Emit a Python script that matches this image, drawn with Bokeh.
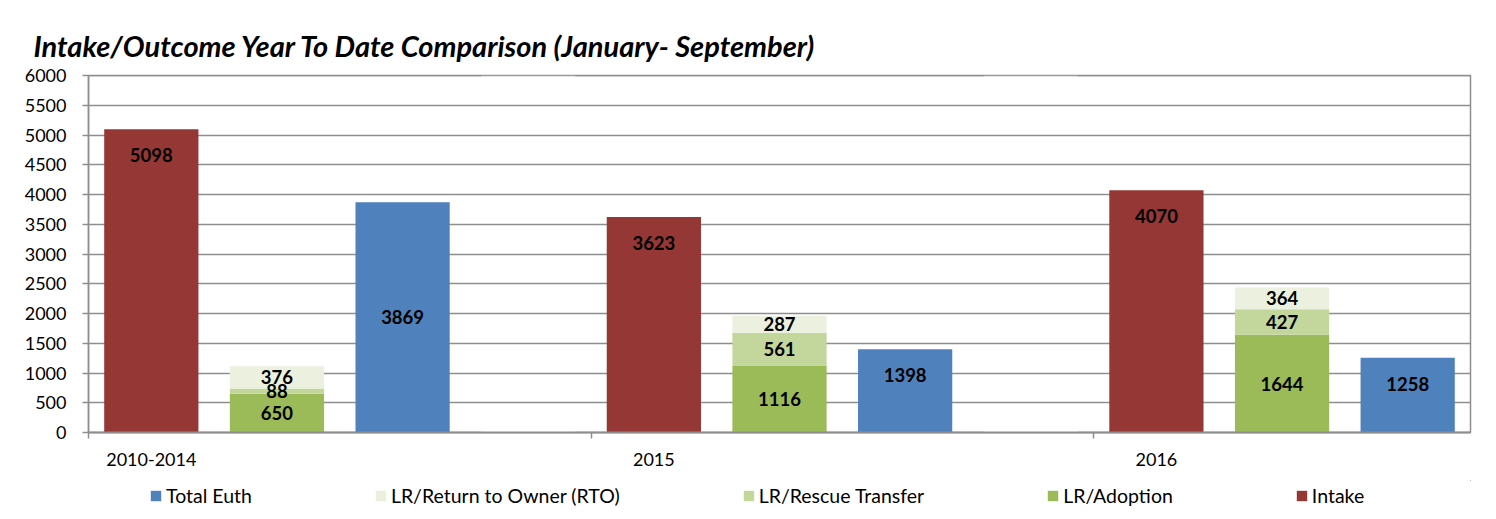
from bokeh.plotting import figure
from bokeh.layouts import column
from bokeh.models import (ColumnDataSource, FixedTicker, Range1d, Legend,
                          LegendItem, Span, Title)
from bokeh.core.properties import value
from bokeh.embed import file_html
from bokeh.resources import INLINE

# ---------------- data ----------------
title_text = "Intake/Outcome Year To Date Comparison (January- September)"
years = ["2010-2014", "2015", "2016"]
intake = [5098, 3623, 4070]
adoption = [650, 1116, 1644]
rescue = [88, 561, 427]
rto = [376, 287, 364]
euth = [3869, 1398, 1258]
y_ticks = [0, 500, 1000, 1500, 2000, 2500, 3000, 3500, 4000, 4500, 5000, 5500, 6000]
legend_names = ["Total Euth", "LR/Return to Owner (RTO)", "LR/Rescue Transfer",
                "LR/Adoption", "Intake"]

# ---------------- style ----------------
FONT = "Lato"
GRID = "#8E8E8E"
C_INTAKE = "#953735"
C_EUTH = "#4F81BD"
C_ADOPT = "#9BBB59"
C_RESCUE = "#C3D69B"
C_RTO = "#EBF1DE"
euth_label_at = ["center", "end", "end"]

slots = 4  # intake, outcomes, euth, spacer
base = [i * slots for i in range(len(years))]
x_intake = [b + 0.5 for b in base]
x_out = [b + 1.5 for b in base]
x_euth = [b + 2.5 for b in base]
x_spacer = [b + 3.5 for b in base[:-1]]
x_end = base[-1] + 3
y_max = y_ticks[-1]
bw = 0.75

p = figure(width=1496, height=480, output_backend="svg", toolbar_location=None,
           x_range=Range1d(0, x_end), y_range=Range1d(0, y_max),
           min_border_left=88, min_border_right=26, min_border_top=75,
           min_border_bottom=48)
p.outline_line_color = GRID
p.outline_line_width = 1.5
p.background_fill_color = "white"
p.border_fill_color = "white"

p.xgrid.visible = False
p.ygrid.ticker = FixedTicker(ticks=y_ticks)
p.ygrid.grid_line_color = GRID
p.ygrid.grid_line_width = 1.5

# white spacer slots hide gridlines between year groups
p.vbar(x=x_spacer, top=y_max, width=bw, fill_color="white", line_color=None,
       level="underlay")
p.add_layout(Span(location=y_max, dimension="width", line_color=GRID, line_width=1.5))

src = ColumnDataSource(dict(x_intake=x_intake, x_out=x_out, x_euth=x_euth,
                            intake=intake, adoption=adoption, rescue=rescue,
                            rto=rto, euth=euth))

p.vbar(x="x_intake", top="intake", width=bw, source=src,
       fill_color=C_INTAKE, line_color=None)
p.vbar(x="x_euth", top="euth", width=bw, source=src,
       fill_color=C_EUTH, line_color=None)
p.vbar_stack(["adoption", "rescue", "rto"], x="x_out", width=bw,
             source=src, color=[C_ADOPT, C_RESCUE, C_RTO], line_color=None)

# ---------------- labels ----------------
lab_kw = dict(text_font=value(FONT), text_font_style="bold",
              text_font_size="18.5px", text_align="center",
              text_baseline="middle", text_color="black")

p.text(x=x_intake, y=intake, text=[str(v) for v in intake], y_offset=26, **lab_kw)

ey = [v / 2 if a == "center" else v for v, a in zip(euth, euth_label_at)]
eo = [0 if a == "center" else 26 for a in euth_label_at]
p.text(x=x_euth, y=ey, y_offset=eo, text=[str(v) for v in euth], **lab_kw)

lab_x, lab_y, lab_t = [], [], []
for i in range(len(years)):
    bottom = 0
    for seg in (adoption[i], rescue[i], rto[i]):
        lab_x.append(x_out[i])
        lab_y.append(bottom + seg / 2)
        lab_t.append(str(seg))
        bottom += seg
p.text(x=lab_x, y=lab_y, text=lab_t, **lab_kw)

# ---------------- axes ----------------
p.yaxis.ticker = FixedTicker(ticks=y_ticks)
p.yaxis.major_tick_out = 6
p.yaxis.major_tick_in = 0
p.yaxis.minor_tick_out = 0
p.yaxis.minor_tick_in = 0
p.yaxis.major_label_standoff = 16
p.yaxis.axis_line_color = GRID
p.yaxis.axis_line_width = 1.5
p.yaxis.major_tick_line_color = GRID
p.yaxis.major_tick_line_width = 1.5
p.yaxis.major_label_text_font = FONT
p.yaxis.major_label_text_font_size = "18px"
p.yaxis.major_label_text_color = "black"

p.xaxis.ticker = FixedTicker(ticks=x_intake, minor_ticks=base)
p.xaxis.major_label_overrides = {x: y for x, y in zip(x_intake, years)}
p.xaxis.major_tick_out = 0
p.xaxis.major_tick_in = 0
p.xaxis.minor_tick_out = 6
p.xaxis.minor_tick_in = 0
p.xaxis.minor_tick_line_color = GRID
p.xaxis.minor_tick_line_width = 1.5
p.xaxis.major_label_standoff = 14
p.xaxis.axis_line_color = GRID
p.xaxis.axis_line_width = 2
p.xaxis.major_label_text_font = FONT
p.xaxis.major_label_text_font_size = "18px"
p.xaxis.major_label_text_color = "black"

# ---------------- title ----------------
p.add_layout(Title(text=title_text, align="left", offset=-55, standoff=25,
                   text_font=FONT, text_font_style="bold italic",
                   text_font_size="29px", text_color="black"), "above")

# ---------------- legend (separate strip, frame aligned with chart) ----------------
# the strip's ranges lie away from the data, so only the legend swatches show
pl = figure(width=1496, height=39, output_backend="svg", toolbar_location=None,
            x_range=Range1d(-2, -1), y_range=Range1d(-2, -1),
            x_axis_type=None, y_axis_type=None,
            min_border_left=0, min_border_right=0, min_border_top=0,
            min_border_bottom=0)
pl.grid.visible = False
pl.outline_line_color = None
pl.background_fill_color = "white"
pl.border_fill_color = "white"

leg_series = [("x_euth", "euth", C_EUTH), ("x_out", "rto", C_RTO),
              ("x_out", "rescue", C_RESCUE), ("x_out", "adoption", C_ADOPT),
              ("x_intake", "intake", C_INTAKE)]
items = []
for name, (xs, vals, col) in zip(legend_names, leg_series):
    r = pl.vbar(x=xs, top=vals, width=bw, source=src,
                fill_color=col, line_color=None)
    items.append(LegendItem(label=name, renderers=[r]))

legend = Legend(items=items, orientation="horizontal", location=(61, 12),
                glyph_width=13, glyph_height=13, label_standoff=4, spacing=122,
                padding=0, margin=0, border_line_color=None,
                background_fill_alpha=0, label_text_font=FONT,
                label_text_font_size="19.5px", label_text_color="black")
pl.add_layout(legend)

layout = column(p, pl, spacing=0)
open("out.html", "w").write(file_html(layout, INLINE))
